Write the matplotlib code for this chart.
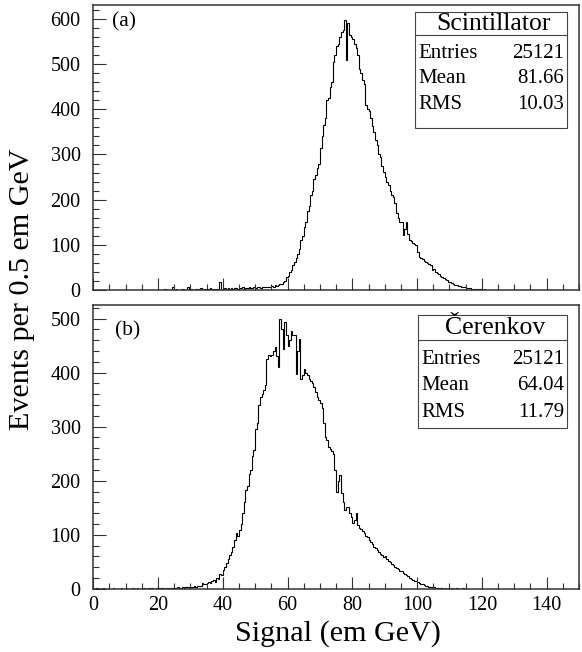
import numpy as np
import matplotlib
matplotlib.use("Agg")
import matplotlib.pyplot as plt
from matplotlib.patches import Rectangle
from matplotlib.ticker import MultipleLocator

plt.rcParams['font.family'] = ['Liberation Serif', 'DejaVu Serif']

# bin width 0.5 em GeV
bin_width = 0.5

# Scintillator: counts per 0.5 GeV bin, first bin starts at 20.0 GeV
scint_start = 20.0
scint_counts = [
    0, 1, 0, 0, 2, 0, 1, 0, 0, 7,              # 20-25
    0, 2, 1, 0, 3, 2, 0, 1, 6, 1,              # 25-30
    2, 1, 0, 3, 1, 2, 4, 1, 2, 3,              # 30-35
    2, 3, 4, 2, 3, 1, 2, 3, 18, 3,             # 35-40
    3, 4, 2, 5, 3, 4, 3, 5, 4, 3,              # 40-45
    5, 4, 6, 3, 5, 4, 6, 5, 4, 6,              # 45-50
    5, 6, 7, 5, 6, 8, 7, 6, 8, 7,              # 50-55
    9, 8, 11, 10, 12, 14, 13, 18, 20, 30,      # 55-60
    32, 40, 45, 55, 62, 72, 80, 90, 110, 120,  # 60-65
    140, 150, 175, 185, 210, 220, 245, 255, 270, 280,  # 65-70
    315, 340, 365, 380, 420, 425, 450, 460, 505, 520,  # 70-75
    540, 545, 560, 570, 575, 598, 509, 590, 565, 560,  # 75-80
    555, 545, 535, 520, 490, 480, 465, 455, 410, 400,  # 80-85
    395, 380, 362, 350, 332, 322, 300, 295, 275, 262,  # 85-90
    250, 240, 232, 220, 210, 205, 192, 170, 160, 150,  # 90-95
    150, 121, 135, 151, 125, 111, 108, 105, 103, 100,  # 95-100
    85, 74, 72, 68, 65, 63, 60, 57, 55, 44,    # 100-105
    47, 41, 38, 35, 32, 28, 26, 24, 22, 18,    # 105-110
    17, 15, 14, 12, 11, 10, 9, 8, 7, 6,        # 110-115
    5, 4, 4, 3, 3, 3, 3, 2, 2, 2,              # 115-120
    1, 2, 1, 1, 0, 1, 0, 1, 0, 0,              # 120-125
]

# Cherenkov: counts per 0.5 GeV bin, first bin starts at 0.0 GeV
cher_start = 0.0
cher_counts = [
    0, 0, 1, 0, 0, 0, 1, 0, 0, 1,              # 0-5
    0, 0, 1, 0, 0, 0, 0, 1, 0, 0,              # 5-10
    1, 0, 0, 0, 1, 0, 0, 1, 0, 0,              # 10-15
    0, 1, 0, 0, 1, 0, 1, 0, 0, 1,              # 15-20
    1, 0, 2, 1, 0, 1, 2, 1, 1, 2,              # 20-25
    2, 1, 3, 2, 1, 3, 2, 4, 3, 2,              # 25-30
    4, 3, 5, 4, 6, 5, 5, 10, 8, 9,             # 30-35
    10, 12, 11, 14, 16, 13, 20, 18, 28, 25,    # 35-40
    35, 40, 48, 55, 62, 68, 78, 90, 103, 98,   # 40-45
    109, 120, 140, 160, 183, 190, 213, 220, 245, 256,  # 45-50
    295, 306, 340, 355, 360, 367, 378, 426, 432, 430,  # 50-55
    432, 440, 447, 430, 410, 499, 480, 444, 493, 470,  # 55-60
    449, 460, 478, 470, 469, 398, 440, 462, 389, 395,  # 60-65
    407, 400, 395, 389, 385, 380, 373, 365, 355, 350,  # 65-70
    343, 335, 306, 281, 275, 263, 258, 255, 250, 220,  # 70-75
    180, 200, 210, 177, 160, 146, 152, 151, 140, 132,  # 75-80
    121, 128, 140, 118, 112, 110, 106, 103, 98, 95,    # 80-85
    90, 86, 82, 78, 76, 72, 68, 65, 62, 58,    # 85-90
    60, 55, 52, 50, 46, 44, 40, 38, 36, 33,    # 90-95
    32, 30, 27, 25, 23, 20, 18, 17, 15, 14,    # 95-100
    12, 10, 9, 8, 7, 6, 5, 4, 4, 3,            # 100-105
    3, 2, 2, 1, 1, 1, 0, 1, 0, 1,              # 105-110
    0, 1, 0, 0, 1, 0, 0, 0, 1, 0,              # 110-115
]

panels = [
    {'counts': scint_counts, 'start': scint_start, 'ymax': 630, 'tag': '(a)',
     'title': 'Scintillator', 'entries': '25121', 'mean': '81.66', 'rms': '10.03'},
    {'counts': cher_counts, 'start': cher_start, 'ymax': 525, 'tag': '(b)',
     'title': '\u010cerenkov', 'entries': '25121', 'mean': '64.04', 'rms': '11.79'},
]

fig = plt.figure(figsize=(5.82, 6.52), dpi=100)
ax_top = fig.add_axes([0.160, 0.555, 0.835, 0.437])
ax_bot = fig.add_axes([0.160, 0.097, 0.835, 0.435])

# box geometry in axes fraction: (left, right, top, separator, bottom, text rows, tag pos)
boxes = [
    (0.663, 0.975, 0.975, 0.895, 0.568, [0.935, 0.832, 0.743, 0.650], (0.039, 0.940)),
    (0.669, 0.975, 0.965, 0.877, 0.567, [0.920, 0.808, 0.715, 0.622], (0.045, 0.908)),
]

for ax, p, bx in zip([ax_top, ax_bot], panels, boxes):
    counts = np.array(p['counts'], dtype=float)
    edges = p['start'] + bin_width * np.arange(len(counts) + 1)
    ax.stairs(counts, edges, color='black', lw=0.8)

    ax.set_xlim(0, 150)
    ax.set_ylim(0, p['ymax'])
    ax.xaxis.set_major_locator(MultipleLocator(20))
    ax.xaxis.set_minor_locator(MultipleLocator(5))
    ax.yaxis.set_major_locator(MultipleLocator(100))
    ax.yaxis.set_minor_locator(MultipleLocator(20))
    ax.tick_params(which='both', direction='in', top=False, right=False, width=0.8, color='#333333')
    ax.tick_params(which='major', length=9, labelsize=14.5)
    ax.tick_params(which='minor', length=4.5)
    ax.tick_params(axis='y', which='major', pad=9)
    ax.tick_params(axis='x', which='major', pad=5)
    for s in ax.spines.values():
        s.set_linewidth(1.1)
        s.set_color('#333333')

    left, right, top, sep, bottom, rows, tagpos = bx
    ax.add_patch(Rectangle((left, bottom), right - left, top - bottom, transform=ax.transAxes,
                           facecolor='white', edgecolor='#444444', lw=0.8, zorder=5))
    ax.plot([left, right], [sep, sep], transform=ax.transAxes, color='#444444', lw=0.8, zorder=6)
    ax.text((left + right) / 2 + 0.005, rows[0], p['title'], transform=ax.transAxes,
            ha='center', va='center', fontsize=18.5, zorder=7)
    for label, val, yy in zip(['Entries', 'Mean', 'RMS'],
                              [p['entries'], p['mean'], p['rms']], rows[1:]):
        ax.text(left + 0.006, yy, label, transform=ax.transAxes,
                ha='left', va='center', fontsize=15, zorder=7)
        ax.text(right - 0.006, yy, val, transform=ax.transAxes,
                ha='right', va='center', fontsize=15, zorder=7)
    ax.text(tagpos[0], tagpos[1], p['tag'], transform=ax.transAxes,
            ha='left', va='center', fontsize=15.5)

ax_top.tick_params(axis='x', labelbottom=False)

fig.text(0.038, 0.556, 'Events per 0.5 em GeV', rotation=90, ha='center', va='center', fontsize=21.7)
fig.text(0.581, 0.029, 'Signal (em GeV)', ha='center', va='center', fontsize=21.7)

fig.savefig('out.png', dpi=100)
